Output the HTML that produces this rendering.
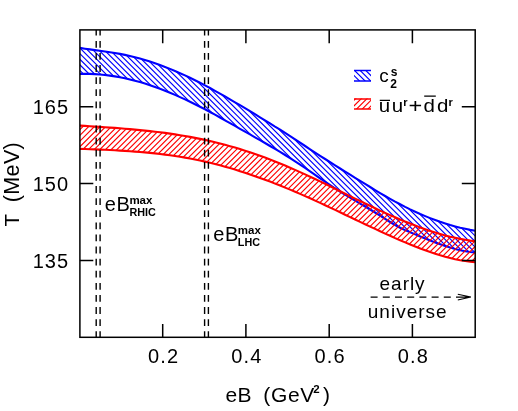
<!DOCTYPE html>
<html><head><meta charset="utf-8"><title>chart</title><style>html,body{margin:0;padding:0;background:#fff}body{width:518px;height:411px;overflow:hidden;font-family:"Liberation Sans",sans-serif}</style></head><body>
<svg width="518" height="411" viewBox="0 0 518 411" style="display:block;will-change:transform">
<defs>
<clipPath id="cb"><path d="M79.9 47.9 L84.9 48.7 L89.9 49.4 L94.9 50.1 L99.9 50.8 L104.9 51.5 L109.9 52.2 L114.9 53.0 L119.9 53.9 L124.9 54.9 L129.9 56.0 L134.9 57.2 L139.9 58.6 L144.9 60.0 L150.0 61.6 L155.0 63.2 L160.0 65.0 L165.0 66.9 L170.0 68.9 L175.0 71.0 L180.0 73.2 L185.0 75.4 L190.0 77.8 L195.0 80.2 L200.0 82.8 L205.0 85.4 L210.0 88.0 L215.0 90.8 L220.0 93.6 L225.0 96.4 L230.0 99.3 L235.0 102.3 L240.0 105.2 L245.0 108.2 L250.0 111.2 L255.0 114.2 L260.0 117.3 L265.0 120.3 L270.0 123.4 L275.0 126.6 L280.1 129.7 L285.1 132.9 L290.1 136.1 L295.1 139.4 L300.1 142.7 L305.1 146.0 L310.1 149.3 L315.1 152.6 L320.1 155.8 L325.1 159.0 L330.1 162.2 L335.1 165.3 L340.1 168.5 L345.1 171.6 L350.1 174.7 L355.1 177.8 L360.1 180.9 L365.1 183.9 L370.1 187.0 L375.1 190.1 L380.1 193.1 L385.1 196.0 L390.1 198.9 L395.1 201.7 L400.1 204.3 L405.1 206.9 L410.2 209.4 L415.2 211.7 L420.2 214.0 L425.2 216.1 L430.2 218.1 L435.2 220.0 L440.2 221.8 L445.2 223.4 L450.2 225.0 L455.2 226.4 L460.2 227.7 L465.2 228.8 L470.2 229.9 L475.2 230.8 L475.2 252.5 L470.2 252.0 L465.2 251.2 L460.2 250.2 L455.2 249.0 L450.2 247.5 L445.2 245.9 L440.2 244.2 L435.2 242.4 L430.2 240.5 L425.2 238.5 L420.2 236.5 L415.2 234.4 L410.2 232.3 L405.1 230.1 L400.1 227.7 L395.1 225.0 L390.1 222.0 L385.1 218.9 L380.1 215.7 L375.1 212.5 L370.1 209.5 L365.1 206.5 L360.1 203.6 L355.1 200.7 L350.1 197.7 L345.1 194.7 L340.1 191.6 L335.1 188.4 L330.1 185.1 L325.1 181.7 L320.1 178.3 L315.1 174.8 L310.1 171.4 L305.1 168.0 L300.1 164.6 L295.1 161.4 L290.1 158.2 L285.1 155.0 L280.1 151.9 L275.0 148.9 L270.0 146.0 L265.0 143.0 L260.0 140.1 L255.0 137.3 L250.0 134.4 L245.0 131.6 L240.0 128.8 L235.0 125.9 L230.0 123.1 L225.0 120.3 L220.0 117.5 L215.0 114.7 L210.0 112.0 L205.0 109.3 L200.0 106.7 L195.0 104.2 L190.0 101.7 L185.0 99.4 L180.0 97.1 L175.0 94.9 L170.0 92.7 L165.0 90.7 L160.0 88.8 L155.0 87.0 L150.0 85.2 L144.9 83.6 L139.9 82.1 L134.9 80.7 L129.9 79.5 L124.9 78.3 L119.9 77.3 L114.9 76.4 L109.9 75.6 L104.9 75.0 L99.9 74.5 L94.9 74.1 L89.9 73.9 L84.9 73.8 L79.9 73.9 Z"/></clipPath>
<clipPath id="cr"><path d="M79.9 125.6 L84.9 125.9 L89.9 126.2 L94.9 126.6 L99.9 126.9 L104.9 127.2 L109.9 127.6 L114.9 127.9 L119.9 128.3 L124.9 128.7 L129.9 129.1 L134.9 129.6 L139.9 130.1 L144.9 130.6 L150.0 131.1 L155.0 131.7 L160.0 132.3 L165.0 132.9 L170.0 133.6 L175.0 134.4 L180.0 135.2 L185.0 136.0 L190.0 136.9 L195.0 137.9 L200.0 138.9 L205.0 139.9 L210.0 141.1 L215.0 142.2 L220.0 143.5 L225.0 144.8 L230.0 146.2 L235.0 147.6 L240.0 149.1 L245.0 150.7 L250.0 152.3 L255.0 154.0 L260.0 155.8 L265.0 157.6 L270.0 159.5 L275.0 161.5 L280.1 163.5 L285.1 165.5 L290.1 167.7 L295.1 169.9 L300.1 172.1 L305.1 174.4 L310.1 176.7 L315.1 179.0 L320.1 181.4 L325.1 183.8 L330.1 186.3 L335.1 188.7 L340.1 191.2 L345.1 193.6 L350.1 196.1 L355.1 198.6 L360.1 201.0 L365.1 203.4 L370.1 205.8 L375.1 208.2 L380.1 210.6 L385.1 212.9 L390.1 215.1 L395.1 217.3 L400.1 219.5 L405.1 221.6 L410.2 223.6 L415.2 225.5 L420.2 227.4 L425.2 229.2 L430.2 230.9 L435.2 232.5 L440.2 234.0 L445.2 235.4 L450.2 236.7 L455.2 237.8 L460.2 238.9 L465.2 239.8 L470.2 240.6 L475.2 241.2 L475.2 262.2 L470.2 261.7 L465.2 261.0 L460.2 260.2 L455.2 259.2 L450.2 258.0 L445.2 256.7 L440.2 255.3 L435.2 253.7 L430.2 252.1 L425.2 250.3 L420.2 248.4 L415.2 246.5 L410.2 244.5 L405.1 242.4 L400.1 240.2 L395.1 238.1 L390.1 235.8 L385.1 233.6 L380.1 231.3 L375.1 228.9 L370.1 226.6 L365.1 224.2 L360.1 221.9 L355.1 219.5 L350.1 217.1 L345.1 214.7 L340.1 212.3 L335.1 209.9 L330.1 207.6 L325.1 205.2 L320.1 202.9 L315.1 200.6 L310.1 198.3 L305.1 196.1 L300.1 193.9 L295.1 191.7 L290.1 189.6 L285.1 187.6 L280.1 185.5 L275.0 183.6 L270.0 181.6 L265.0 179.8 L260.0 177.9 L255.0 176.2 L250.0 174.4 L245.0 172.8 L240.0 171.2 L235.0 169.6 L230.0 168.1 L225.0 166.7 L220.0 165.3 L215.0 164.0 L210.0 162.8 L205.0 161.6 L200.0 160.5 L195.0 159.5 L190.0 158.5 L185.0 157.6 L180.0 156.8 L175.0 156.0 L170.0 155.3 L165.0 154.6 L160.0 154.0 L155.0 153.4 L150.0 152.9 L144.9 152.4 L139.9 152.0 L134.9 151.6 L129.9 151.2 L124.9 150.9 L119.9 150.6 L114.9 150.3 L109.9 150.0 L104.9 149.8 L99.9 149.6 L94.9 149.4 L89.9 149.2 L84.9 149.0 L79.9 148.9 Z"/></clipPath>
<clipPath id="clb"><rect x="354" y="70.4" width="17" height="10.5"/></clipPath>
<clipPath id="clr"><rect x="354" y="98.6" width="17" height="10.5"/></clipPath>
<clipPath id="cp"><rect x="79.9" y="29.9" width="395.29999999999995" height="307.40000000000003"/></clipPath>
</defs>
<rect width="518" height="411" fill="#fff"/>
<g clip-path="url(#cp)">
<path d="M75 -377.26L480 27.74M75 -371.66L480 33.34M75 -366.05L480 38.95M75 -360.44L480 44.56M75 -354.84L480 50.16M75 -349.23L480 55.77M75 -343.63L480 61.37M75 -338.02L480 66.98M75 -332.42L480 72.58M75 -326.81L480 78.19M75 -321.21L480 83.79M75 -315.60L480 89.40M75 -310.00L480 95.00M75 -304.39L480 100.61M75 -298.79L480 106.21M75 -293.18L480 111.82M75 -287.58L480 117.42M75 -281.97L480 123.03M75 -276.37L480 128.63M75 -270.76L480 134.24M75 -265.16L480 139.84M75 -259.55L480 145.45M75 -253.95L480 151.05M75 -248.34L480 156.66M75 -242.74L480 162.26M75 -237.13L480 167.87M75 -231.53L480 173.47M75 -225.92L480 179.08M75 -220.32L480 184.68M75 -214.71L480 190.29M75 -209.11L480 195.89M75 -203.50L480 201.50M75 -197.90L480 207.10M75 -192.29L480 212.71M75 -186.69L480 218.31M75 -181.08L480 223.92M75 -175.48L480 229.52M75 -169.87L480 235.13M75 -164.27L480 240.73M75 -158.66L480 246.34M75 -153.06L480 251.94M75 -147.45L480 257.55M75 -141.85L480 263.15M75 -136.24L480 268.76M75 -130.64L480 274.36M75 -125.03L480 279.97M75 -119.43L480 285.57M75 -113.82L480 291.18M75 -108.22L480 296.78M75 -102.61L480 302.39M75 -97.01L480 307.99M75 -91.40L480 313.60M75 -85.80L480 319.20M75 -80.19L480 324.81M75 -74.59L480 330.41M75 -68.98L480 336.02M75 -63.38L480 341.62M75 -57.77L480 347.23M75 -52.17L480 352.83M75 -46.56L480 358.44M75 -40.96L480 364.04M75 -35.35L480 369.65M75 -29.75L480 375.25M75 -24.14L480 380.86M75 -18.54L480 386.46M75 -12.93L480 392.07M75 -7.33L480 397.67M75 -1.72L480 403.28M75 3.88L480 408.88M75 9.49L480 414.49M75 15.09L480 420.09M75 20.70L480 425.70M75 26.30L480 431.30M75 31.91L480 436.91M75 37.51L480 442.51M75 43.12L480 448.12M75 48.72L480 453.72M75 54.33L480 459.33M75 59.93L480 464.93M75 65.54L480 470.54M75 71.14L480 476.14M75 76.75L480 481.75M75 82.35L480 487.35M75 87.96L480 492.96M75 93.56L480 498.56M75 99.17L480 504.17M75 104.77L480 509.77M75 110.38L480 515.38M75 115.98L480 520.98M75 121.59L480 526.59M75 127.19L480 532.19M75 132.80L480 537.80M75 138.40L480 543.40M75 144.01L480 549.01M75 149.61L480 554.61M75 155.22L480 560.22M75 160.82L480 565.82M75 166.43L480 571.43M75 172.03L480 577.03M75 177.64L480 582.64M75 183.24L480 588.24M75 188.85L480 593.85M75 194.45L480 599.45M75 200.06L480 605.06M75 205.66L480 610.66M75 211.27L480 616.27M75 216.87L480 621.87M75 222.48L480 627.48M75 228.08L480 633.08M75 233.69L480 638.69M75 239.29L480 644.29M75 244.90L480 649.90M75 250.50L480 655.50M75 256.11L480 661.11M75 261.71L480 666.71M75 267.32L480 672.32M75 272.92L480 677.92M75 278.53L480 683.53M75 284.13L480 689.13M75 289.74L480 694.74M75 295.34L480 700.34M75 300.95L480 705.95M75 306.55L480 711.55M75 312.16L480 717.16M75 317.76L480 722.76M75 323.37L480 728.37M75 328.97L480 733.97M75 334.58L480 739.58" clip-path="url(#cb)" stroke="#0000ff" stroke-width="1.15" fill="none"/>
<path d="M79.9 47.9 L84.9 48.7 L89.9 49.4 L94.9 50.1 L99.9 50.8 L104.9 51.5 L109.9 52.2 L114.9 53.0 L119.9 53.9 L124.9 54.9 L129.9 56.0 L134.9 57.2 L139.9 58.6 L144.9 60.0 L150.0 61.6 L155.0 63.2 L160.0 65.0 L165.0 66.9 L170.0 68.9 L175.0 71.0 L180.0 73.2 L185.0 75.4 L190.0 77.8 L195.0 80.2 L200.0 82.8 L205.0 85.4 L210.0 88.0 L215.0 90.8 L220.0 93.6 L225.0 96.4 L230.0 99.3 L235.0 102.3 L240.0 105.2 L245.0 108.2 L250.0 111.2 L255.0 114.2 L260.0 117.3 L265.0 120.3 L270.0 123.4 L275.0 126.6 L280.1 129.7 L285.1 132.9 L290.1 136.1 L295.1 139.4 L300.1 142.7 L305.1 146.0 L310.1 149.3 L315.1 152.6 L320.1 155.8 L325.1 159.0 L330.1 162.2 L335.1 165.3 L340.1 168.5 L345.1 171.6 L350.1 174.7 L355.1 177.8 L360.1 180.9 L365.1 183.9 L370.1 187.0 L375.1 190.1 L380.1 193.1 L385.1 196.0 L390.1 198.9 L395.1 201.7 L400.1 204.3 L405.1 206.9 L410.2 209.4 L415.2 211.7 L420.2 214.0 L425.2 216.1 L430.2 218.1 L435.2 220.0 L440.2 221.8 L445.2 223.4 L450.2 225.0 L455.2 226.4 L460.2 227.7 L465.2 228.8 L470.2 229.9 L475.2 230.8" fill="none" stroke="#0000ff" stroke-width="2.1"/>
<path d="M79.9 73.9 L84.9 73.8 L89.9 73.9 L94.9 74.1 L99.9 74.5 L104.9 75.0 L109.9 75.6 L114.9 76.4 L119.9 77.3 L124.9 78.3 L129.9 79.5 L134.9 80.7 L139.9 82.1 L144.9 83.6 L150.0 85.2 L155.0 87.0 L160.0 88.8 L165.0 90.7 L170.0 92.7 L175.0 94.9 L180.0 97.1 L185.0 99.4 L190.0 101.7 L195.0 104.2 L200.0 106.7 L205.0 109.3 L210.0 112.0 L215.0 114.7 L220.0 117.5 L225.0 120.3 L230.0 123.1 L235.0 125.9 L240.0 128.8 L245.0 131.6 L250.0 134.4 L255.0 137.3 L260.0 140.1 L265.0 143.0 L270.0 146.0 L275.0 148.9 L280.1 151.9 L285.1 155.0 L290.1 158.2 L295.1 161.4 L300.1 164.6 L305.1 168.0 L310.1 171.4 L315.1 174.8 L320.1 178.3 L325.1 181.7 L330.1 185.1 L335.1 188.4 L340.1 191.6 L345.1 194.7 L350.1 197.7 L355.1 200.7 L360.1 203.6 L365.1 206.5 L370.1 209.5 L375.1 212.5 L380.1 215.7 L385.1 218.9 L390.1 222.0 L395.1 225.0 L400.1 227.7 L405.1 230.1 L410.2 232.3 L415.2 234.4 L420.2 236.5 L425.2 238.5 L430.2 240.5 L435.2 242.4 L440.2 244.2 L445.2 245.9 L450.2 247.5 L455.2 249.0 L460.2 250.2 L465.2 251.2 L470.2 252.0 L475.2 252.5" fill="none" stroke="#0000ff" stroke-width="2.1"/>
<path d="M75 26.45L480 -378.55M75 32.14L480 -372.86M75 37.83L480 -367.17M75 43.52L480 -361.48M75 49.21L480 -355.79M75 54.90L480 -350.10M75 60.59L480 -344.41M75 66.28L480 -338.72M75 71.97L480 -333.03M75 77.66L480 -327.34M75 83.35L480 -321.65M75 89.04L480 -315.96M75 94.73L480 -310.27M75 100.42L480 -304.58M75 106.11L480 -298.89M75 111.80L480 -293.20M75 117.49L480 -287.51M75 123.18L480 -281.82M75 128.87L480 -276.13M75 134.56L480 -270.44M75 140.25L480 -264.75M75 145.94L480 -259.06M75 151.63L480 -253.37M75 157.32L480 -247.68M75 163.01L480 -241.99M75 168.70L480 -236.30M75 174.39L480 -230.61M75 180.08L480 -224.92M75 185.77L480 -219.23M75 191.46L480 -213.54M75 197.15L480 -207.85M75 202.84L480 -202.16M75 208.53L480 -196.47M75 214.22L480 -190.78M75 219.91L480 -185.09M75 225.60L480 -179.40M75 231.29L480 -173.71M75 236.98L480 -168.02M75 242.67L480 -162.33M75 248.36L480 -156.64M75 254.05L480 -150.95M75 259.74L480 -145.26M75 265.43L480 -139.57M75 271.12L480 -133.88M75 276.81L480 -128.19M75 282.50L480 -122.50M75 288.19L480 -116.81M75 293.88L480 -111.12M75 299.57L480 -105.43M75 305.26L480 -99.74M75 310.95L480 -94.05M75 316.64L480 -88.36M75 322.33L480 -82.67M75 328.02L480 -76.98M75 333.71L480 -71.29M75 339.40L480 -65.60M75 345.09L480 -59.91M75 350.78L480 -54.22M75 356.47L480 -48.53M75 362.16L480 -42.84M75 367.85L480 -37.15M75 373.54L480 -31.46M75 379.23L480 -25.77M75 384.92L480 -20.08M75 390.61L480 -14.39M75 396.30L480 -8.70M75 401.99L480 -3.01M75 407.68L480 2.68M75 413.37L480 8.37M75 419.06L480 14.06M75 424.75L480 19.75M75 430.44L480 25.44M75 436.13L480 31.13M75 441.82L480 36.82M75 447.51L480 42.51M75 453.20L480 48.20M75 458.89L480 53.89M75 464.58L480 59.58M75 470.27L480 65.27M75 475.96L480 70.96M75 481.65L480 76.65M75 487.34L480 82.34M75 493.03L480 88.03M75 498.72L480 93.72M75 504.41L480 99.41M75 510.10L480 105.10M75 515.79L480 110.79M75 521.48L480 116.48M75 527.17L480 122.17M75 532.86L480 127.86M75 538.55L480 133.55M75 544.24L480 139.24M75 549.93L480 144.93M75 555.62L480 150.62M75 561.31L480 156.31M75 567.00L480 162.00M75 572.69L480 167.69M75 578.38L480 173.38M75 584.07L480 179.07M75 589.76L480 184.76M75 595.45L480 190.45M75 601.14L480 196.14M75 606.83L480 201.83M75 612.52L480 207.52M75 618.21L480 213.21M75 623.90L480 218.90M75 629.59L480 224.59M75 635.28L480 230.28M75 640.97L480 235.97M75 646.66L480 241.66M75 652.35L480 247.35M75 658.04L480 253.04M75 663.73L480 258.73M75 669.42L480 264.42M75 675.11L480 270.11M75 680.80L480 275.80M75 686.49L480 281.49M75 692.18L480 287.18M75 697.87L480 292.87M75 703.56L480 298.56M75 709.25L480 304.25M75 714.94L480 309.94M75 720.63L480 315.63M75 726.32L480 321.32M75 732.01L480 327.01M75 737.70L480 332.70M75 743.39L480 338.39" clip-path="url(#cr)" stroke="#ff0000" stroke-width="1.15" fill="none"/>
<path d="M79.9 125.6 L84.9 125.9 L89.9 126.2 L94.9 126.6 L99.9 126.9 L104.9 127.2 L109.9 127.6 L114.9 127.9 L119.9 128.3 L124.9 128.7 L129.9 129.1 L134.9 129.6 L139.9 130.1 L144.9 130.6 L150.0 131.1 L155.0 131.7 L160.0 132.3 L165.0 132.9 L170.0 133.6 L175.0 134.4 L180.0 135.2 L185.0 136.0 L190.0 136.9 L195.0 137.9 L200.0 138.9 L205.0 139.9 L210.0 141.1 L215.0 142.2 L220.0 143.5 L225.0 144.8 L230.0 146.2 L235.0 147.6 L240.0 149.1 L245.0 150.7 L250.0 152.3 L255.0 154.0 L260.0 155.8 L265.0 157.6 L270.0 159.5 L275.0 161.5 L280.1 163.5 L285.1 165.5 L290.1 167.7 L295.1 169.9 L300.1 172.1 L305.1 174.4 L310.1 176.7 L315.1 179.0 L320.1 181.4 L325.1 183.8 L330.1 186.3 L335.1 188.7 L340.1 191.2 L345.1 193.6 L350.1 196.1 L355.1 198.6 L360.1 201.0 L365.1 203.4 L370.1 205.8 L375.1 208.2 L380.1 210.6 L385.1 212.9 L390.1 215.1 L395.1 217.3 L400.1 219.5 L405.1 221.6 L410.2 223.6 L415.2 225.5 L420.2 227.4 L425.2 229.2 L430.2 230.9 L435.2 232.5 L440.2 234.0 L445.2 235.4 L450.2 236.7 L455.2 237.8 L460.2 238.9 L465.2 239.8 L470.2 240.6 L475.2 241.2" fill="none" stroke="#ff0000" stroke-width="2.1"/>
<path d="M79.9 148.9 L84.9 149.0 L89.9 149.2 L94.9 149.4 L99.9 149.6 L104.9 149.8 L109.9 150.0 L114.9 150.3 L119.9 150.6 L124.9 150.9 L129.9 151.2 L134.9 151.6 L139.9 152.0 L144.9 152.4 L150.0 152.9 L155.0 153.4 L160.0 154.0 L165.0 154.6 L170.0 155.3 L175.0 156.0 L180.0 156.8 L185.0 157.6 L190.0 158.5 L195.0 159.5 L200.0 160.5 L205.0 161.6 L210.0 162.8 L215.0 164.0 L220.0 165.3 L225.0 166.7 L230.0 168.1 L235.0 169.6 L240.0 171.2 L245.0 172.8 L250.0 174.4 L255.0 176.2 L260.0 177.9 L265.0 179.8 L270.0 181.6 L275.0 183.6 L280.1 185.5 L285.1 187.6 L290.1 189.6 L295.1 191.7 L300.1 193.9 L305.1 196.1 L310.1 198.3 L315.1 200.6 L320.1 202.9 L325.1 205.2 L330.1 207.6 L335.1 209.9 L340.1 212.3 L345.1 214.7 L350.1 217.1 L355.1 219.5 L360.1 221.9 L365.1 224.2 L370.1 226.6 L375.1 228.9 L380.1 231.3 L385.1 233.6 L390.1 235.8 L395.1 238.1 L400.1 240.2 L405.1 242.4 L410.2 244.5 L415.2 246.5 L420.2 248.4 L425.2 250.3 L430.2 252.1 L435.2 253.7 L440.2 255.3 L445.2 256.7 L450.2 258.0 L455.2 259.2 L460.2 260.2 L465.2 261.0 L470.2 261.7 L475.2 262.2" fill="none" stroke="#ff0000" stroke-width="2.1"/>
</g>
<line x1="96.2" y1="29.9" x2="96.2" y2="337.3" stroke="#000" stroke-width="1.4" stroke-dasharray="6.8 5.3" stroke-dashoffset="1.1"/>
<line x1="100.1" y1="29.9" x2="100.1" y2="337.3" stroke="#000" stroke-width="1.4" stroke-dasharray="6.8 5.3" stroke-dashoffset="1.1"/>
<line x1="204.6" y1="29.9" x2="204.6" y2="337.3" stroke="#000" stroke-width="1.4" stroke-dasharray="6.8 5.3" stroke-dashoffset="1.1"/>
<line x1="208.4" y1="29.9" x2="208.4" y2="337.3" stroke="#000" stroke-width="1.4" stroke-dasharray="6.8 5.3" stroke-dashoffset="1.1"/>
<rect x="79.9" y="29.9" width="395.3" height="307.4" fill="none" stroke="#000" stroke-width="1.5"/>
<path d="M162.7 29.9 v13.4 M162.7 337.3 v-13.4" stroke="#000" stroke-width="1.5"/>
<path d="M245.9 29.9 v13.4 M245.9 337.3 v-13.4" stroke="#000" stroke-width="1.5"/>
<path d="M329.2 29.9 v13.4 M329.2 337.3 v-13.4" stroke="#000" stroke-width="1.5"/>
<path d="M412.4 29.9 v13.4 M412.4 337.3 v-13.4" stroke="#000" stroke-width="1.5"/>
<path d="M79.9 106.8 h13.4 M475.2 106.8 h-13.4" stroke="#000" stroke-width="1.5"/>
<path d="M79.9 183.6 h13.4 M475.2 183.6 h-13.4" stroke="#000" stroke-width="1.5"/>
<path d="M79.9 260.5 h13.4 M475.2 260.5 h-13.4" stroke="#000" stroke-width="1.5"/>
<text x="163.7" y="363.1" font-family="Liberation Sans, sans-serif" font-size="20" letter-spacing="1.2" text-anchor="middle">0.2</text>
<text x="246.9" y="363.1" font-family="Liberation Sans, sans-serif" font-size="20" letter-spacing="1.2" text-anchor="middle">0.4</text>
<text x="330.2" y="363.1" font-family="Liberation Sans, sans-serif" font-size="20" letter-spacing="1.2" text-anchor="middle">0.6</text>
<text x="413.4" y="363.1" font-family="Liberation Sans, sans-serif" font-size="20" letter-spacing="1.2" text-anchor="middle">0.8</text>
<text x="69.1" y="114.0" font-family="Liberation Sans, sans-serif" font-size="20" letter-spacing="1" text-anchor="end">165</text>
<text x="69.1" y="190.8" font-family="Liberation Sans, sans-serif" font-size="20" letter-spacing="1" text-anchor="end">150</text>
<text x="69.1" y="267.7" font-family="Liberation Sans, sans-serif" font-size="20" letter-spacing="1" text-anchor="end">135</text>
<text x="225.4" y="401.5" font-family="Liberation Sans, sans-serif" font-size="21" letter-spacing="0.4">eB</text>
<text x="263.2" y="401.5" font-family="Liberation Sans, sans-serif" font-size="21" letter-spacing="0.7">(GeV</text>
<text x="313.2" y="393.2" font-family="Liberation Sans, sans-serif" font-size="11.5" font-weight="bold">2</text>
<text x="323" y="401.5" font-family="Liberation Sans, sans-serif" font-size="21">)</text>
<g transform="translate(19.1 0) rotate(-90)"><text x="-226.4" y="0" font-family="Liberation Sans, sans-serif" font-size="20.5">T</text><text x="-202.2" y="0" font-family="Liberation Sans, sans-serif" font-size="21.5" letter-spacing="0.35">(MeV)</text></g>
<g>
<path d="M340 22.26L380 62.26M340 27.87L380 67.87M340 33.47L380 73.47M340 39.08L380 79.08M340 44.68L380 84.68M340 50.29L380 90.29M340 55.89L380 95.89M340 61.50L380 101.50M340 67.10L380 107.10M340 72.71L380 112.71M340 78.31L380 118.31M340 83.92L380 123.92M340 89.52L380 129.52M340 95.13L380 135.13M340 100.73L380 140.73M340 106.34L380 146.34M340 111.94L380 151.94M340 117.55L380 157.55" clip-path="url(#clb)" stroke="#0000ff" stroke-width="1.15" fill="none"/>
<path d="M354 70.6 h17 M354 81.0 h17" stroke="#0000ff" stroke-width="1.5"/>
<path d="M340 63.02L380 23.02M340 68.71L380 28.71M340 74.40L380 34.40M340 80.09L380 40.09M340 85.78L380 45.78M340 91.47L380 51.47M340 97.16L380 57.16M340 102.85L380 62.85M340 108.54L380 68.54M340 114.23L380 74.23M340 119.92L380 79.92M340 125.61L380 85.61M340 131.30L380 91.30M340 136.99L380 96.99M340 142.68L380 102.68M340 148.37L380 108.37M340 154.06L380 114.06M340 159.75L380 119.75" clip-path="url(#clr)" stroke="#ff0000" stroke-width="1.15" fill="none"/>
<path d="M354 98.9 h17 M354 109.1 h17" stroke="#ff0000" stroke-width="1.5"/>
</g>
<text transform="translate(379.2 81.6) scale(1.08 1)" font-family="Liberation Sans, sans-serif" font-size="17.5">c</text>
<text x="390.8" y="75.7" font-family="Liberation Sans, sans-serif" font-size="12" font-weight="bold">s</text>
<text x="390.3" y="87.6" font-family="Liberation Sans, sans-serif" font-size="12" font-weight="bold">2</text>
<text transform="translate(378.8 112.1) scale(1.14 1)" font-family="Liberation Sans, sans-serif" font-size="18">u</text>
<text transform="translate(391.8 112.1) scale(1.14 1)" font-family="Liberation Sans, sans-serif" font-size="18">u</text>
<text x="403.2" y="106.3" font-family="Liberation Sans, sans-serif" font-size="11" font-weight="bold">r</text>
<text transform="translate(408.6 113.2) scale(1.12 1)" font-family="Liberation Sans, sans-serif" font-size="21">+</text>
<text transform="translate(423.6 112.1) scale(1.14 1)" font-family="Liberation Sans, sans-serif" font-size="18">d</text>
<text transform="translate(437 112.1) scale(1.14 1)" font-family="Liberation Sans, sans-serif" font-size="18">d</text>
<text x="448.5" y="106.3" font-family="Liberation Sans, sans-serif" font-size="11" font-weight="bold">r</text>
<path d="M379.8 100.4 h10.2 M424.2 96.1 h11.6" stroke="#000" stroke-width="1.3"/>
<text x="104.8" y="210.5" font-family="Liberation Sans, sans-serif" font-size="20" letter-spacing="0.6">eB</text>
<text x="129.4" y="203.8" font-family="Liberation Sans, sans-serif" font-size="11.5" font-weight="bold">max</text>
<text x="129.4" y="215.9" font-family="Liberation Sans, sans-serif" font-size="10.8" font-weight="bold">RHIC</text>
<text x="213.2" y="240.5" font-family="Liberation Sans, sans-serif" font-size="20" letter-spacing="0.6">eB</text>
<text x="237.79999999999998" y="233.8" font-family="Liberation Sans, sans-serif" font-size="11.5" font-weight="bold">max</text>
<text x="237.79999999999998" y="245.9" font-family="Liberation Sans, sans-serif" font-size="10.8" font-weight="bold">LHC</text>
<text x="379.6" y="290.2" font-family="Liberation Sans, sans-serif" font-size="19" letter-spacing="0.95">early</text>
<text x="367.8" y="317.6" font-family="Liberation Sans, sans-serif" font-size="19" letter-spacing="1.0">universe</text>
<path d="M370.6 297.1 H452" stroke="#000" stroke-width="1.3" stroke-dasharray="7 5.2"/>
<path d="M457.8 294.2 L470.9 297.1 L457.8 300 M456 297.1 H470.5" stroke="#000" stroke-width="1.05" fill="none"/>
</svg>
</body></html>
